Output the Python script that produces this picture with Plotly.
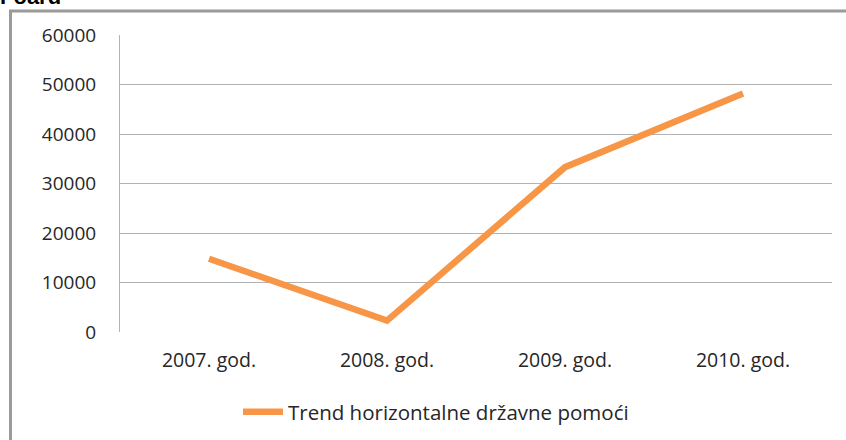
import plotly.graph_objects as go

categories = ["2007. god.", "2008. god.", "2009. god.", "2010. god."]
values = [14800, 2300, 33300, 48200]
series_name = "Trend horizontalne državne pomoći"
y_ticks = [0, 10000, 20000, 30000, 40000, 50000, 60000]

fig = go.Figure()
fig.add_trace(go.Scatter(
    x=categories, y=values, mode="lines", name=series_name,
    line=dict(color="#F79646", width=6.5),
))

font_family = "Open Sans, Liberation Sans, sans-serif"
W0, T0, PW, PH = 120, 35, 712, 297
fig.update_layout(
    width=846, height=440,
    margin=dict(l=120, r=14, t=35, b=108, autoexpand=False),
    paper_bgcolor="white", plot_bgcolor="white",
    font=dict(family=font_family, size=19, color="#262626"),
    showlegend=True,
    legend=dict(orientation="h", x=(238 - W0) / PW, xanchor="left",
                y=(332 - 412) / PH, yanchor="middle",
                font=dict(size=20.5, color="#262626"), itemwidth=40),
    xaxis=dict(type="category", range=[-0.5, 3.5], showgrid=False, showline=False,
               automargin=False, ticks="", ticklabelstandoff=14, tickfont=dict(size=19.5)),
    yaxis=dict(range=[0, 60000], tickvals=y_ticks, ticktext=[str(v) for v in y_ticks],
               showgrid=True, gridcolor="#B3B3B3", gridwidth=1,
               showline=True, linecolor="#B3B3B3", linewidth=1, automargin=False,
               ticks="", ticklabelstandoff=19, zeroline=False, tickfont=dict(size=19)),
    shapes=[dict(type="rect", xref="paper", yref="paper",
                 x0=(10.5 - W0) / PW, x1=1.2, y0=-0.6, y1=1 + (T0 - 11) / PH,
                 line=dict(color="#9A9A9A", width=3), fillcolor="rgba(0,0,0,0)", layer="below")],
    annotations=[dict(text="<b>Foard</b>", xref="paper", yref="paper",
                      x=(-2 - W0) / PW, y=1 + (T0 + 4) / PH, xanchor="left", yanchor="middle",
                      showarrow=False, font=dict(size=22, color="black", family="Liberation Sans, Arial"))],
)

fig.write_html("out.html", config={"displayModeBar": False},
               post_script="document.body.style.margin='0';document.body.style.overflow='hidden';")
